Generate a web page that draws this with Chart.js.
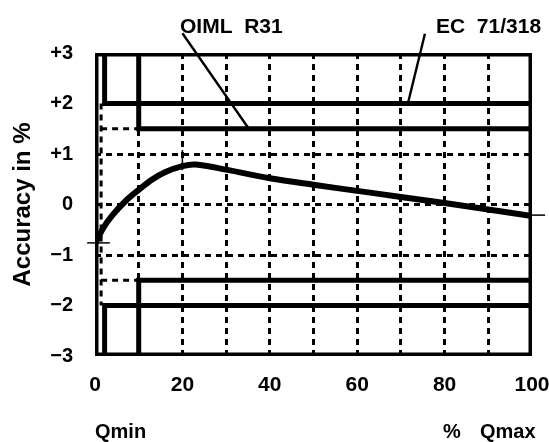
<!DOCTYPE html>
<html><head><meta charset="utf-8">
<script src="https://cdn.jsdelivr.net/npm/chart.js@4.4.0/dist/chart.umd.min.js"></script>
<style>html,body{margin:0;padding:0;background:#fff;}#wrap{width:549px;height:442px;position:relative;}</style>
</head><body><div id="wrap"><canvas id="c"></canvas></div>
<script>
// ---- data ----
const curveX = [0, 2, 4, 7, 10, 13, 16, 20, 23, 30, 40, 50, 60, 70, 80, 90, 100];
const curveY = [-0.78, -0.45, -0.21, 0.07, 0.29, 0.49, 0.64, 0.76, 0.79, 0.69, 0.52, 0.39, 0.27, 0.15, 0.03, -0.10, -0.23];

const ecUpperX = [2.2, 2.2, 100];
const ecUpperY = [3, 2, 2];
const ecLowerX = [2.2, 2.2, 100];
const ecLowerY = [-3, -2, -2];
const ecDotX = [1.4, 1.4];
const ecDotY = [2, -2];

const oimlUpperX = [10, 10, 100];
const oimlUpperY = [3, 1.5, 1.5];
const oimlLowerX = [10, 10, 100];
const oimlLowerY = [-3, -1.5, -1.5];
const oimlDotUpperX = [1.4, 10];
const oimlDotUpperY = [1.5, 1.5];
const oimlDotLowerX = [1.4, 10];
const oimlDotLowerY = [-1.5, -1.5];

const frameX = [0, 100, 100, 0, 0];
const frameY = [3, 3, -3, -3, 3];

const oimlLeaderX = [20, 35.2];
const oimlLeaderY = [3.39, 1.5];
const ecLeaderX = [75.5, 71.6];
const ecLeaderY = [3.38, 2.0];

const markLeftX = [-1.8, 3.4];
const markLeftY = [-0.76, -0.76];
const markPeakX = [20, 20];
const markPeakY = [1.08, 0.68];
const markRightX = [100, 103];
const markRightY = [-0.21, -0.21];

const xTickValues = [0, 20, 40, 60, 80, 100];
const xTickLabels = ['0', '20', '40', '60', '80', '100'];
const yTickValues = [3, 2, 1, 0, -1, -2, -3];
const yTickLabels = ['+3', '+2', '+1', '0', '\u22121', '\u22122', '\u22123'];
const xDottedGrid = [10, 20, 30, 40, 50, 60, 70, 80, 90];
const yDottedGrid = [1, 0, -1];

const labelOIML = 'OIML  R31';
const labelEC = 'EC  71/318';
const labelQmin = 'Qmin';
const labelPct = '%';
const labelQmax = 'Qmax';
const yTitle = 'Accuracy in %';

// ---- helpers ----
const pts = (xs, ys) => xs.map((x, i) => ({x: x, y: ys[i]}));
const FONT = "'Liberation Sans', Arial, Helvetica, sans-serif";
const DASH = [6, 5];

function seg(xs, ys, w, opts) {
  return Object.assign({
    data: pts(xs, ys), borderColor: '#000', borderWidth: w, pointRadius: 0,
    fill: false, tension: 0, borderCapStyle: 'butt', borderJoinStyle: 'miter'
  }, opts || {});
}

const textPlugin = {
  id: 'texts',
  afterDraw(chart) {
    const ctx = chart.ctx;
    ctx.save();
    ctx.fillStyle = '#000';
    ctx.textBaseline = 'alphabetic';
    ctx.textAlign = 'left';
    ctx.font = 'bold 21px ' + FONT;
    ctx.fillText(labelOIML, 180, 33);
    ctx.fillText(labelEC, 436, 33);
    ctx.font = 'bold 20px ' + FONT;
    ctx.fillText(labelQmin, 95, 438);
    ctx.fillText(labelPct, 443, 438);
    ctx.fillText(labelQmax, 480, 438);
    ctx.restore();
  }
};

new Chart(document.getElementById('c'), {
  type: 'line',
  data: {
    datasets: [
      seg(curveX, curveY, 6, {tension: 0.35, borderCapStyle: 'round'}),
      seg(frameX, frameY, 7, {borderJoinStyle: 'round'}),
      seg(ecUpperX, ecUpperY, 5),
      seg(ecLowerX, ecLowerY, 5),
      seg(oimlUpperX, oimlUpperY, 5),
      seg(oimlLowerX, oimlLowerY, 5),
      seg(ecDotX, ecDotY, 3, {borderDash: DASH}),
      seg(oimlDotUpperX, oimlDotUpperY, 3, {borderDash: DASH}),
      seg(oimlDotLowerX, oimlDotLowerY, 3, {borderDash: DASH}),
      seg(oimlLeaderX, oimlLeaderY, 2.4, {clip: false}),
      seg(ecLeaderX, ecLeaderY, 2.4, {clip: false}),
      seg(markLeftX, markLeftY, 1.5, {clip: false}),
      seg(markPeakX, markPeakY, 1.5, {clip: false}),
      seg(markRightX, markRightY, 1.5, {clip: false})
    ]
  },
  options: {
    responsive: true,
    maintainAspectRatio: false,
    animation: false,
    events: [],
    layout: {padding: {top: 53, right: 17, left: 0, bottom: 0}},
    plugins: {legend: {display: false}, tooltip: {enabled: false}},
    scales: {
      x: {
        type: 'linear', min: 0, max: 100,
        afterFit(s) { s.height = 86; s.paddingLeft = 0; s.paddingRight = 0; },
        afterBuildTicks(s) { s.ticks = [0,10,20,30,40,50,60,70,80,90,100].map(v => ({value: v})); },
        ticks: {
          autoSkip: false, maxRotation: 0, padding: 17, color: '#000',
          font: {family: FONT, size: 21, weight: 'bold'},
          callback(v) { const i = xTickValues.indexOf(v); return i >= 0 ? xTickLabels[i] : ''; }
        },
        grid: {
          drawTicks: false, lineWidth: 3, borderDash: DASH,
          color: c => (c.tick && xDottedGrid.indexOf(c.tick.value) >= 0) ? '#000' : 'rgba(0,0,0,0)'
        },
        border: {display: false, dash: DASH}
      },
      y: {
        type: 'linear', min: -3, max: 3,
        afterFit(s) { s.width = 95; s.paddingTop = 0; s.paddingBottom = 0; },
        afterBuildTicks(s) { s.ticks = yTickValues.slice().reverse().map(v => ({value: v})); },
        ticks: {
          autoSkip: false, padding: 22, color: '#000',
          font: {family: FONT, size: 20, weight: 'bold'},
          callback(v) { const i = yTickValues.indexOf(v); return i >= 0 ? yTickLabels[i] : ''; }
        },
        title: {
          display: true, text: yTitle, color: '#000',
          font: {family: FONT, size: 24, weight: 'bold'},
          padding: {top: 9, bottom: 0}
        },
        grid: {
          drawTicks: false, lineWidth: 3, borderDash: DASH,
          color: c => (c.tick && yDottedGrid.indexOf(c.tick.value) >= 0) ? '#000' : 'rgba(0,0,0,0)'
        },
        border: {display: false, dash: DASH}
      }
    }
  },
  plugins: [textPlugin]
});
</script>
</body></html>
